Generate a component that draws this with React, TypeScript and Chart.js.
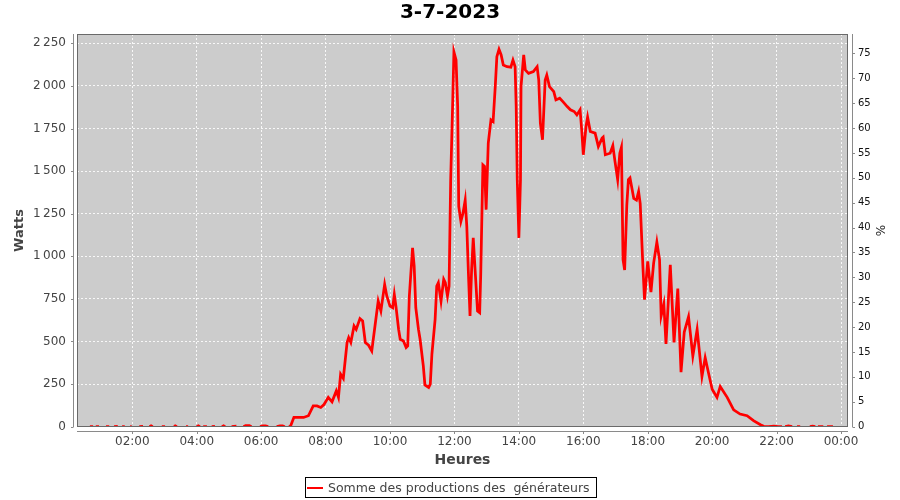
import React, { useEffect, useRef } from "react";
import { Chart, registerables } from "chart.js";

Chart.register(...registerables);

// ---------- data ----------
const TITLE = "3-7-2023";
const SERIES_LABEL = "Somme des productions des  générateurs";
const Y_TITLE = "Watts";
const X_TITLE = "Heures";
const Y2_TITLE = "%";

// time of each sample ("HH:MM"); a null watt value marks a gap in the recording
const TIMES: string[] = [
  "00:41", "00:47", "00:50", "00:52", "00:58", "01:05", "01:11", "01:17", "01:21", "01:26", "01:33", "01:37",
  "01:41", "01:46", "01:50", "01:56", "01:59", "02:05", "02:13", "02:20", "02:26", "02:32", "02:35", "02:38",
  "02:45", "02:55", "03:01", "03:10", "03:18", "03:20", "03:23", "03:30", "03:40", "03:44", "03:52", "04:00",
  "04:03", "04:06", "04:09", "04:12", "04:19", "04:23", "04:28", "04:34", "04:40", "04:47", "04:50", "04:53",
  "04:59", "05:05", "05:14", "05:20", "05:27", "05:31", "05:38", "05:42", "05:50", "05:58", "06:03", "06:08",
  "06:13", "06:20", "06:29", "06:35", "06:40", "06:44", "06:48",
  "06:52", "06:55", "07:01", "07:19", "07:28", "07:37", "07:44", "07:51", "07:57", "08:05", "08:12", "08:20",
  "08:24", "08:28", "08:33", "08:40", "08:43", "08:47", "08:53", "08:57", "09:04", "09:09", "09:14", "09:20",
  "09:26", "09:32", "09:38", "09:43", "09:50", "09:54", "10:00", "10:05", "10:08", "10:11", "10:16", "10:19",
  "10:25", "10:30", "10:33", "10:36", "10:42", "10:45", "10:48", "10:53", "10:56", "11:02", "11:05", "11:12",
  "11:15", "11:18", "11:24", "11:27", "11:30", "11:35", "11:40", "11:43", "11:47", "11:50", "11:53", "11:57",
  "11:59", "12:03", "12:06", "12:08", "12:12", "12:16", "12:20", "12:23", "12:26", "12:29", "12:32", "12:35",
  "12:39", "12:43", "12:47", "12:49", "12:53", "12:56", "12:59", "13:03", "13:08", "13:12", "13:16", "13:19",
  "13:23", "13:27", "13:31", "13:38", "13:45", "13:49", "13:53", "13:55", "13:57", "14:00", "14:03", "14:04",
  "14:09", "14:12", "14:18", "14:27", "14:34", "14:37", "14:40", "14:44", "14:49", "14:52", "14:57", "15:05",
  "15:09", "15:16", "15:22", "15:30", "15:36", "15:43", "15:48", "15:54", "15:57", "16:00", "16:05", "16:08",
  "16:13", "16:22", "16:28", "16:35", "16:37", "16:41", "16:50", "16:55", "16:59", "17:04", "17:08", "17:11",
  "17:14", "17:17", "17:21", "17:24", "17:27", "17:34", "17:39", "17:43", "17:46", "17:51", "17:54", "18:00",
  "18:06", "18:11", "18:17", "18:22", "18:25", "18:30", "18:34", "18:42", "18:49", "18:56", "19:02", "19:08",
  "19:16", "19:24", "19:32", "19:41", "19:47", "19:53", "20:00", "20:09", "20:15", "20:28", "20:40", "20:52",
  "21:05", "21:17", "21:30", "21:36", "21:45", "21:55", "22:03", "22:10",
  "22:13", "22:16", "22:22", "22:29", "22:33", "22:38", "22:44", "22:52", "23:02", "23:07", "23:12", "23:15",
  "23:17", "23:27", "23:30", "23:34", "23:45",
];

const WATTS: (number | null)[] = [
  0, 0, null, 0, 0, null, 0, 0, null, 0, 2, null,
  0, 0, null, 0, 0, null, 0, 2, null, 0, 5, 0,
  null, 0, 0, null, 0, 5, 0, null, 0, 0, null, 0,
  5, 0, null, 0, 0, null, 0, 2, null, 0, 5, 0,
  null, 0, 3, null, 0, 6, 6, 0, null, 0, 5, 5,
  0, null, 0, 5, 5, 0, null,
  0, 5, 55, 54, 64, 122, 122, 113, 130, 172, 146, 210,
  172, 308, 283, 494, 523, 494, 591, 571, 634, 620, 494, 478,
  444, 591, 737, 679, 835, 767, 708, 698, 776, 708, 571, 513,
  503, 464, 474, 767, 1050, 942, 698, 571, 513, 357, 245, 230,
  249, 425, 630, 825, 845, 737, 865, 845, 767, 825, 1450, 1937,
  2200, 2152, 1880, 1293, 1205, 1255, 1330, 1176, 903, 650, 923, 1108,
  893, 679, 669, 900, 1537, 1528, 1274, 1665, 1801, 1791, 1996, 2172,
  2215, 2182, 2123, 2113, 2110, 2152, 2113, 1880, 1450, 1108, 1450, 1996,
  2182, 2094, 2074, 2084, 2113, 2035, 1782, 1684, 2035, 2064, 1996, 1967,
  1918, 1928, 1908, 1879, 1860, 1850, 1830, 1860, 1743, 1596, 1762, 1817,
  1733, 1723, 1645, 1694, 1700, 1596, 1605, 1650, 1557, 1450, 1605, 1640,
  980, 920, 1300, 1450, 1460, 1340, 1330, 1380, 1310, 940, 745, 970,
  790, 960, 1083, 980, 650, 720, 485, 950, 495, 810, 320, 555,
  645, 415, 570, 295, 405, 318, 220, 172, 236, 172, 99, 74,
  64, 35, 11, 2, 0, 3, 0, 0,
  null, 0, 4, 0, null, 0, 0, null, 0, 3, 0, null,
  0, 0, null, 0, 0,
];

const WATT_TICKS = [0, 250, 500, 750, 1000, 1250, 1500, 1750, 2000, 2250];
const PERCENT_TICKS = [0, 5, 10, 15, 20, 25, 30, 35, 40, 45, 50, 55, 60, 65, 70, 75];
const HOUR_TICK_LABELS = ["02:00", "04:00", "06:00", "08:00", "10:00", "12:00", "14:00", "16:00", "18:00", "20:00", "22:00", "00:00"];
const HOUR_TICK_MINUTES = [120, 240, 360, 480, 600, 720, 840, 960, 1080, 1200, 1320, 1440];

const X_MIN = 17;
const X_MAX = 1453;
const Y_MIN = -2;
const Y_MAX = 2305;
const Y2_MIN = -0.07;
const Y2_MAX = 78.9;

// ---------- helpers ----------
const toMin = (t: string) => {
  const [h, m] = t.split(":").map(Number);
  return h * 60 + m;
};
const fmtWatts = (v: number) =>
  v >= 1000 ? `${Math.floor(v / 1000)}\u2009${String(v % 1000).padStart(3, "0")}` : String(v);

const FONT = '"DejaVu Sans", "Liberation Sans", sans-serif';
const GRID = "rgba(255,255,255,0.85)";
const AXIS = "#8a8a8a";

const decor = {
  id: "decor",
  beforeDraw(chart: any) {
    const { ctx, chartArea: a } = chart;
    ctx.save();
    ctx.fillStyle = "#cccccc";
    ctx.fillRect(a.left, a.top, a.right - a.left, a.bottom - a.top);
    ctx.restore();
  },
  afterDatasetsDraw(chart: any) {
    const { ctx, chartArea: a } = chart;
    ctx.save();
    ctx.strokeStyle = "#6a6a6a";
    ctx.lineWidth = 1;
    ctx.strokeRect(Math.round(a.left) + 0.5, Math.round(a.top) + 0.5, Math.round(a.right - a.left) - 1, Math.round(a.bottom - a.top) - 1);
    ctx.restore();
  },
  afterDraw(chart: any) {
    const { ctx, chartArea: a, scales } = chart;
    const L = Math.round(a.left), R = Math.round(a.right), T = Math.round(a.top), B = Math.round(a.bottom);
    ctx.save();
    ctx.strokeStyle = AXIS;
    ctx.lineWidth = 1;
    ctx.beginPath();
    // left axis
    ctx.moveTo(L - 3.5, T); ctx.lineTo(L - 3.5, B);
    for (const t of scales.y.ticks) {
      const p = Math.round(scales.y.getPixelForValue(t.value)) + 0.5;
      ctx.moveTo(L - 6, p); ctx.lineTo(L - 3.5, p);
    }
    // right axis
    ctx.moveTo(R + 4.5, T); ctx.lineTo(R + 4.5, B);
    for (const t of scales.y1.ticks) {
      const p = Math.round(scales.y1.getPixelForValue(t.value)) + 0.5;
      ctx.moveTo(R + 4.5, p); ctx.lineTo(R + 7, p);
    }
    // bottom axis
    ctx.moveTo(L, B + 4.5); ctx.lineTo(R, B + 4.5);
    for (const t of scales.x.ticks) {
      const p = Math.round(scales.x.getPixelForValue(t.value)) + 0.5;
      ctx.moveTo(p, B + 4.5); ctx.lineTo(p, B + 7);
    }
    ctx.stroke();

    // title
    ctx.fillStyle = "#000";
    ctx.font = `bold 20px ${FONT}`;
    ctx.textAlign = "center";
    ctx.textBaseline = "middle";
    ctx.fillText(TITLE, 450, 13);

    // axis titles
    ctx.fillStyle = "#444";
    ctx.font = `bold 14px ${FONT}`;
    ctx.fillText(X_TITLE, (L + R) / 2, 460);
    ctx.save();
    ctx.translate(20, (T + B) / 2);
    ctx.rotate(-Math.PI / 2);
    ctx.font = `bold 13px ${FONT}`;
    ctx.fillText(Y_TITLE, 0, 0);
    ctx.restore();
    ctx.save();
    ctx.translate(882, (T + B) / 2);
    ctx.rotate(-Math.PI / 2);
    ctx.fillStyle = "#222";
    ctx.font = `12px ${FONT}`;
    ctx.fillText(Y2_TITLE, 0, 0);
    ctx.restore();

    // legend
    ctx.font = `12.5px ${FONT}`;
    const tw = ctx.measureText(SERIES_LABEL).width;
    const boxW = tw + 29;
    const bx = Math.round(450 - boxW / 2) + 0.5;
    ctx.strokeStyle = "#000";
    ctx.lineWidth = 1;
    ctx.strokeRect(bx, 477.5, Math.round(boxW), 20);
    ctx.strokeStyle = "#ff0000";
    ctx.lineWidth = 2;
    ctx.beginPath();
    ctx.moveTo(bx + 1.5, 488); ctx.lineTo(bx + 17.5, 488);
    ctx.stroke();
    ctx.fillStyle = "#444";
    ctx.textAlign = "left";
    ctx.textBaseline = "alphabetic";
    ctx.fillText(SERIES_LABEL, bx + 22.5, 492);
    ctx.restore();
  },
};

export default function App() {
  const ref = useRef<HTMLCanvasElement | null>(null);

  useEffect(() => {
    const canvas = ref.current;
    if (!canvas) return;
    const points = TIMES.map((t, i) => ({ x: toMin(t), y: WATTS[i] }));

    const chart = new Chart(canvas, {
      type: "line",
      data: {
        datasets: [
          {
            label: SERIES_LABEL,
            data: points as any,
            borderColor: "#ff0000",
            backgroundColor: "#ff0000",
            borderWidth: 2.75,
            pointRadius: 0,
            pointHoverRadius: 0,
            fill: false,
            tension: 0,
            spanGaps: false,
            clip: 0 as any,
            xAxisID: "x",
            yAxisID: "y",
          },
        ],
      },
      options: {
        animation: false,
        responsive: false,
        maintainAspectRatio: false,
        events: [],
        layout: { padding: { top: 34, left: 0, right: 0, bottom: 0 } },
        plugins: {
          legend: { display: false },
          title: { display: false },
          tooltip: { enabled: false },
        },
        scales: {
          x: {
            type: "linear",
            position: "bottom",
            min: X_MIN,
            max: X_MAX,
            afterBuildTicks: (s: any) => {
              s.ticks = HOUR_TICK_MINUTES.map((v) => ({ value: v }));
            },
            afterFit: (s: any) => {
              s.height = 73;
            },
            grid: { color: GRID, lineWidth: 1, drawTicks: false },
            border: { display: false, dash: [2, 2] },
            ticks: {
              callback: (_v: any, i: number) => HOUR_TICK_LABELS[i],
              color: "#444",
              font: { family: FONT, size: 12 },
              padding: 8,
              maxRotation: 0,
              minRotation: 0,
              autoSkip: false,
            },
          },
          y: {
            type: "linear",
            position: "left",
            min: Y_MIN,
            max: Y_MAX,
            afterBuildTicks: (s: any) => {
              s.ticks = WATT_TICKS.map((v) => ({ value: v }));
            },
            afterFit: (s: any) => {
              s.width = 77;
            },
            grid: { color: GRID, lineWidth: 1, drawTicks: false },
            border: { display: false, dash: [2, 2] },
            ticks: {
              callback: (v: any) => fmtWatts(Number(v)),
              color: "#444",
              font: { family: FONT, size: 12 },
              padding: 11,
            },
          },
          y1: {
            type: "linear",
            position: "right",
            min: Y2_MIN,
            max: Y2_MAX,
            afterBuildTicks: (s: any) => {
              s.ticks = PERCENT_TICKS.map((v) => ({ value: v }));
            },
            afterFit: (s: any) => {
              s.width = 52;
            },
            grid: { display: false, drawTicks: false },
            border: { display: false },
            ticks: {
              callback: (v: any) => String(v),
              color: "#111",
              font: { family: FONT, size: 10 },
              padding: 10,
            },
          },
        },
      },
      plugins: [decor],
    });

    return () => chart.destroy();
  }, []);

  return (
    <div style={{ position: "absolute", left: 0, top: 0, width: 900, height: 500, background: "#fff" }}>
      <canvas ref={ref} width={900} height={500} style={{ display: "block", width: 900, height: 500 }} />
    </div>
  );
}
